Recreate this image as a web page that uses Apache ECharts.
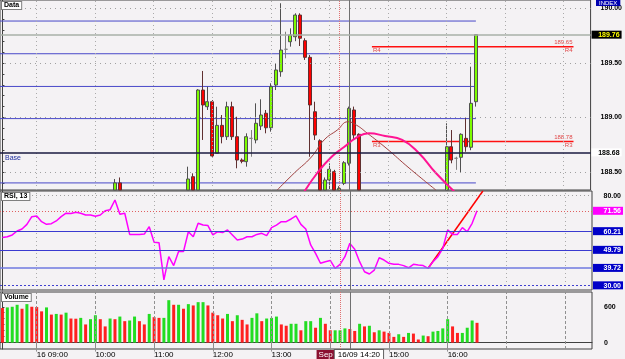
<!DOCTYPE html>
<html>
<head>
<meta charset="utf-8">
<script src="https://cdn.jsdelivr.net/npm/echarts@6/dist/echarts.min.js"></script>
<style>
html, body { margin: 0; padding: 0; background: #f4f2f4; }
#chart { width: 625px; height: 359px; }
</style>
</head>
<body>
<div id="chart"></div>
<script>
// 5 minute bars, 16 Sep, 08:25 .. 18:25 (data only up to 16:30)
var N_CAT = 121;
var times = [];
for (var i = 0; i < N_CAT; i++) {
  var m = 8 * 60 + 25 + i * 5;
  var hh = Math.floor(m / 60), mm = m % 60;
  times.push((hh < 10 ? '0' : '') + hh + ':' + (mm < 10 ? '0' : '') + mm);
}
var hourIdx = [];
times.forEach(function (t, i) { if (t.slice(3) === '00') hourIdx.push(i); });

// [open, close, low, high]; '-' = below the visible price range
var candles = [
  '-', '-', '-', '-', '-', '-', '-', '-', '-', '-', '-', '-', '-', '-', '-', '-', '-', '-', '-', '-', '-', '-', '-',
  [188.30, 188.40, 188.25, 188.436], [188.40, 188.30, 188.25, 188.45],
  '-', '-', '-', '-', '-', '-', '-', '-', '-', '-', '-', '-', '-',
  [188.30, 188.436, 188.25, 188.549], [188.457, 188.30, 188.25, 188.488],
  [188.30, 189.252, 188.25, 189.26], [189.252, 189.115, 188.794, 189.427],
  [189.099, 189.145, 189.069, 189.283], [189.145, 188.647, 188.64, 189.16],
  [188.672, 188.928, 188.672, 189.099], [188.928, 188.824, 188.763, 189.023],
  [188.824, 189.099, 188.794, 189.145], [189.099, 188.824, 188.794, 189.145],
  [188.824, 188.61, 188.534, 189.007], [188.61, 188.598, 188.58, 188.625],
  [188.595, 188.824, 188.549, 188.855], [188.809, 188.809, 188.64, 188.885],
  [188.794, 188.947, 188.763, 189.13], [188.922, 189.023, 188.885, 189.167],
  [189.039, 188.906, 188.855, 189.069], [188.906, 189.283, 188.87, 189.314],
  [189.298, 189.436, 189.252, 189.50], [189.42, 189.619, 189.374, 190.048],
  [189.626, 189.626, 189.543, 189.787], [189.695, 189.757, 189.65, 189.818],
  [189.741, 189.94, 189.70, 189.956], [189.94, 189.727, 189.656, 189.956],
  [189.705, 189.552, 189.528, 189.727], [189.552, 189.115, 188.64, 189.573],
  [189.053, 188.839, 188.794, 189.145], [188.787, 188.30, 188.2, 188.80],
  [188.30, 188.427, 188.25, 188.45], [188.427, 188.525, 188.34, 188.58],
  [188.503, 188.30, 188.2, 188.52], [188.30, 188.35, 188.25, 188.37],
  [188.396, 188.585, 188.38, 188.60], [188.58, 189.084, 188.56, 189.10],
  [189.069, 188.839, 188.794, 189.10], [188.846, 188.30, 188.2, 188.855],
  '-', '-', '-', '-', '-', '-', '-', '-', '-', '-', '-', '-', '-', '-', '-', '-', '-',
  [188.30, 188.732, 188.2, 188.947], [188.732, 188.61, 188.58, 188.885],
  [188.626, 188.626, 188.52, 188.64], [188.635, 188.846, 188.494, 188.855],
  [188.809, 188.732, 188.686, 188.993], [188.727, 189.13, 188.70, 189.466],
  [189.145, 189.76, 189.10, 189.76]
];

var rsi = [
  56.7, 57.1, 58.1, 60.3, 61.4, 64.0, 68.3, 68.7, 65.5, 64.0,
  64.4, 65.9, 68.3, 70.2, 70.0, 70.7, 70.2, 69.2, 69.2, 68.5,
  69.2, 71.6, 72.2, 77.6, 69.6, 70.2, 58.4, 58.4, 58.4, 58.6,
  62.7, 54.0, 53.8, 33.0, 46.0, 41.0, 48.8, 48.8, 59.9, 57.1,
  64.6, 63.6, 63.3, 58.1, 59.9, 59.4, 60.9, 58.1, 55.3, 55.8,
  57.1, 57.1, 58.4, 59.0, 57.7, 62.2, 63.6, 65.5, 65.5, 67.0,
  68.7, 64.0, 61.4, 52.5, 47.8, 42.3, 43.2, 43.9, 39.5, 41.7,
  46.0, 53.4, 50.1, 43.2, 37.6, 36.3, 38.5, 45.4, 44.1, 42.3,
  41.7, 41.7, 41.0, 39.8, 41.7, 41.3, 41.0, 39.5, 43.2, 46.0,
  50.6, 60.9, 58.4, 58.4, 62.2, 59.9, 64.6, 71.56
];

var volumes = [
  578, 589, 600, 633, 567, 644, 600, 595, 523, 589,
  469, 480, 469, 501, 403, 400, 414, 304, 392, 458,
  392, 271, 403, 392, 436, 359, 370, 436, 359, 304,
  480, 425, 414, 414, 710, 633, 633, 567, 644, 622,
  677, 677, 622, 501, 458, 403, 480, 359, 458, 381,
  304, 414, 490, 359, 403, 414, 436, 304, 282, 315,
  315, 206, 359, 359, 249, 414, 315, 206, 206, 206,
  238, 227, 195, 315, 271, 282, 173, 206, 184, 162,
  96, 140, 96, 162, 151, 52, 118, 107, 184, 195,
  238, 392, 271, 162, 162, 249, 370, 331
];

// drawn objects: price levels, pivots, arcs, RSI trend line
var levels = [189.885, 189.585, 189.285, 188.99, 188.40];
var baseLevel = 188.68;
var lastPrice = 189.76;
var pivots = [['R4', 189.65], ['R3', 188.78]];
var pivotSpan = [75.7, 117];
var arcPink = [[61.8, 188.316], [64.5, 188.491], [67.4, 188.638], [70.0, 188.729], [72.7, 188.821],
  [75.1, 188.855], [78.4, 188.830], [81.9, 188.794], [85.3, 188.674], [88.8, 188.491], [92.9, 188.307]];
var arcBrown = [[56.3, 188.335], [59.8, 188.491], [63.3, 188.638], [65.9, 188.794], [68.6, 188.885],
  [70.8, 188.961], [72.5, 188.931], [74.7, 188.858], [78.6, 188.720], [83.3, 188.537], [88.8, 188.335]];
var rsiTrend = [[87, 39.5], [98.2, 82.6]];
var rsiLevels = [60.21, 49.79, 39.72];
var priceTicks = [188.5, 189.0, 189.5, 190.0];

var PMIN = 188.335, PMAX = 190.078;
var FONT = 'Liberation Sans';

// candlestick only drops boxes that are fully outside, so cut them to the panel here
var candlesShown = candles.map(function (c) {
  if (c === '-') return c;
  return c.map(function (v) { return Math.min(PMAX, Math.max(PMIN, v)); });
});

function vLines() {
  var d = hourIdx.map(function (i) {
    return { xAxis: times[i], lineStyle: { color: '#aaaaaa', type: [1, 3], width: 1 } };
  });
  d.push({ xAxis: '14:10', lineStyle: { color: '#e07070', type: [1, 1], width: 1 } });
  d.push({ xAxis: '14:20', lineStyle: { color: '#707070', type: 'solid', width: 1 } });
  return d;
}

function endBox(txt, bg, fg) {
  return {
    show: true, position: 'end', distance: 1,
    formatter: '{a|' + txt + '}',
    rich: {
      a: {
        width: 26, align: 'right', padding: [1, 2, 0, 2],
        backgroundColor: bg, color: fg,
        fontSize: 7, fontWeight: 'bold', fontFamily: FONT
      }
    }
  };
}

var priceMarks = vLines();
priceTicks.forEach(function (v) {
  priceMarks.push({ yAxis: v, lineStyle: { color: '#a0a0a0', type: [1, 4], width: 1 } });
});
priceMarks.push({ yAxis: lastPrice, lineStyle: { color: '#a8b0a8', type: 'solid', width: 1.5 },
  label: endBox('189.76', '#000000', '#ffff00') });
priceMarks.push({ yAxis: baseLevel, lineStyle: { color: '#1a1a40', type: 'solid', width: 1.5 },
  label: endBox('188.68', '#ffffff', '#000000') });

var rsiMarks = vLines();
rsiMarks.push({ yAxis: 80, lineStyle: { color: '#a0a0a0', type: [1, 3], width: 1 },
  label: endBox('80.00', 'transparent', '#000000') });
rsiMarks.push({ yAxis: 71.56, lineStyle: { color: '#e06060', type: [1, 2], width: 1 },
  label: endBox('71.56', '#ff00ff', '#ffffff') });
rsiLevels.forEach(function (v, k) {
  rsiMarks.push({ yAxis: v, lineStyle: { color: k === 2 ? '#6f78e0' : '#3a3ad0', type: 'solid', width: k === 2 ? 1.6 : 1 },
    label: endBox(v.toFixed(2), '#0000c8', '#ffffff') });
});
rsiMarks.push({ yAxis: 30, lineStyle: { color: '#4040d0', type: [2, 2], width: 1 },
  label: endBox('30.00', '#0000c8', '#ffffff') });

var volMarks = vLines().map(function (d) {
  if (d.lineStyle.type !== 'solid' && d.lineStyle.color === '#aaaaaa') d.lineStyle = { color: '#909090', type: [3, 2], width: 1 };
  return d;
});
volMarks[volMarks.length - 1].label = {
  show: true, position: 'start', distance: 1,
  formatter: '{s|Sep}{t|16/09 14:20}',
  rich: {
    s: { backgroundColor: '#8a1030', color: '#ffffff', fontSize: 8, padding: [1, 2, 0, 2], fontFamily: FONT },
    t: { backgroundColor: '#ffffff', borderColor: '#606060', borderWidth: 1, color: '#000', fontSize: 8, padding: [1, 3, 0, 3], fontFamily: FONT }
  }
};
volMarks.push({ yAxis: 331, lineStyle: { opacity: 0 }, label: endBox('331', '#00e000', '#000000') });

var series = [
  {
    type: 'candlestick', xAxisIndex: 0, yAxisIndex: 0, data: candlesShown,
    barWidth: 3.5, z: 3,
    itemStyle: {
      color: '#7cfc00', color0: '#ff0000',
      borderColor: '#505050', borderColor0: '#603030', borderColorDoji: '#808080', borderWidth: 1
    },
    markLine: { symbol: 'none', silent: true, animation: false, label: { show: false }, data: priceMarks }
  },
  {
    type: 'line', xAxisIndex: 3, yAxisIndex: 0, data: arcBrown, smooth: true, showSymbol: false,
    lineStyle: { color: '#a04040', width: 1 }, z: 4
  },
  {
    type: 'line', xAxisIndex: 3, yAxisIndex: 0, data: arcPink, smooth: true, showSymbol: false,
    lineStyle: { color: '#ff1493', width: 2 }, z: 4
  },
  {
    type: 'line', xAxisIndex: 4, yAxisIndex: 1, data: rsiTrend, showSymbol: false,
    lineStyle: { color: '#ff0000', width: 1.5 }
  },
  {
    type: 'line', xAxisIndex: 1, yAxisIndex: 1, data: rsi, showSymbol: false,
    lineStyle: { color: '#ff00ff', width: 1.5 },
    markLine: { symbol: 'none', silent: true, animation: false, label: { show: false }, data: rsiMarks }
  },
  {
    type: 'bar', xAxisIndex: 2, yAxisIndex: 2, data: volumes, barWidth: 3,
    itemStyle: {
      color: function (p) {
        var i = p.dataIndex;
        if (i === 0) return '#ff2020';
        return volumes[i] >= volumes[i - 1] ? '#22dd22' : '#ff2020';
      }
    },
    markLine: { symbol: 'none', silent: true, animation: false, label: { show: false }, data: volMarks }
  },
  {
    // base line caption at the left edge
    type: 'line', xAxisIndex: 3, yAxisIndex: 0, symbol: 'circle', symbolSize: 0, showSymbol: true,
    lineStyle: { opacity: 0 },
    data: [{ value: [-0.5, baseLevel], label: { show: true, position: 'right', offset: [0, 6], formatter: 'Base',
      color: '#2030a0', fontSize: 7, fontFamily: FONT } }]
  }
];

levels.forEach(function (v) {
  series.push({
    type: 'line', xAxisIndex: 3, yAxisIndex: 0, showSymbol: false,
    data: [[-0.5, v], [97, v]], lineStyle: { color: '#4848c8', width: 1 }, z: 1
  });
});
pivots.forEach(function (p) {
  series.push({
    type: 'line', xAxisIndex: 3, yAxisIndex: 0, symbol: 'circle', symbolSize: 0, showSymbol: true,
    lineStyle: { color: '#ff1010', width: 1.5 },
    label: { fontSize: 6, color: '#e04848', fontFamily: FONT },
    data: [
      { value: [pivotSpan[0], p[1]], label: { show: true, position: 'right', distance: 1, offset: [0, 4], formatter: p[0] } },
      { value: [pivotSpan[1], p[1]], label: { show: true, position: 'left', distance: 1, lineHeight: 8, align: 'right',
        formatter: p[1].toFixed(2) + '\n' + p[0] } }
    ]
  });
});

var grids = [
  { left: 0, top: 0, width: 592, height: 190 },
  { left: 0, top: 191, width: 592, height: 99 },
  { left: 0, top: 292, width: 592, height: 58 }
].map(function (g) {
  g.show = true; g.backgroundColor = '#f4f2f4'; g.borderColor = '#404040'; g.borderWidth = 1;
  return g;
});

function catAxis(gi, showLabels) {
  return {
    type: 'category', gridIndex: gi, data: times, boundaryGap: true,
    axisLine: { show: showLabels, lineStyle: { color: '#404040' } },
    axisTick: {
      show: showLabels, alignWithLabel: true, length: 9, lineStyle: { color: '#909090' },
      interval: function (i) { return hourIdx.indexOf(i) >= 0 && i <= 91; }
    },
    axisLabel: {
      show: showLabels, align: 'left', margin: 2, fontSize: 8, color: '#000', fontFamily: FONT,
      interval: function (i) { return hourIdx.indexOf(i) >= 0 && i <= 91 && i !== 67; },
      formatter: function (v) { return v === '09:00' ? '16 09:00' : v; }
    },
    splitLine: { show: false }
  };
}
function valAxis(gi) {
  return { type: 'value', gridIndex: gi, min: -0.5, max: N_CAT - 0.5, show: false };
}

var priceTickVals = [];
for (var t = 0; t <= 17; t++) priceTickVals.push(188.4 + t * 0.1);

var option = {
  animation: false,
  backgroundColor: '#f4f2f4',
  textStyle: { fontFamily: FONT },
  grid: grids,
  xAxis: [catAxis(0, false), catAxis(1, false), catAxis(2, true), valAxis(0), valAxis(1), valAxis(2)],
  yAxis: [
    {
      type: 'value', gridIndex: 0, position: 'right', min: PMIN, max: PMAX, scale: true,
      axisLine: { show: true, lineStyle: { color: '#404040' } },
      axisTick: { show: true, length: 2, customValues: priceTickVals, lineStyle: { color: '#404040' } },
      axisLabel: { customValues: priceTicks, margin: 10, fontSize: 7, fontWeight: 'bold', color: '#000',
        formatter: function (v) { return v.toFixed(2); } },
      splitLine: { show: false }
    },
    {
      type: 'value', gridIndex: 1, position: 'right', min: 27.4, max: 82.6,
      axisLine: { show: true, lineStyle: { color: '#404040' } },
      axisTick: { show: false }, axisLabel: { show: false }, splitLine: { show: false }
    },
    {
      type: 'value', gridIndex: 2, position: 'right', min: -107, max: 847,
      axisLine: { show: true, lineStyle: { color: '#404040' } },
      axisTick: { show: true, length: 2, customValues: [0, 100, 200, 300, 400, 500, 600, 700, 800], lineStyle: { color: '#404040' } },
      axisLabel: { customValues: [0, 600], margin: 12, fontSize: 7, fontWeight: 'bold', color: '#000' },
      splitLine: { show: false }
    }
  ],
  graphic: [
    { type: 'text', left: 1, top: 1, z: 100, style: { text: 'Data', fontSize: 7, fontWeight: 'bold', fill: '#000',
      backgroundColor: '#ffffff', borderColor: '#808080', borderWidth: 1, padding: [0, 2] } },
    { type: 'text', left: 1, top: 192, z: 100, style: { text: 'RSI, 13', fontSize: 7, fontWeight: 'bold', fill: '#000',
      backgroundColor: '#ffffff', borderColor: '#808080', borderWidth: 1, padding: [0, 2] } },
    { type: 'text', left: 1, top: 293, z: 100, style: { text: 'Volume', fontSize: 7, fontWeight: 'bold', fill: '#000',
      backgroundColor: '#ffffff', borderColor: '#808080', borderWidth: 1, padding: [0, 2] } },
    { type: 'text', left: 596, top: 0, z: 100, style: { text: 'INDEX', fontSize: 6, fill: '#ffffff',
      backgroundColor: '#0000b0', padding: [0, 3] } }
  ],
  series: series
};

var chart = echarts.init(document.getElementById('chart'));
chart.setOption(option);
</script>
</body>
</html>
